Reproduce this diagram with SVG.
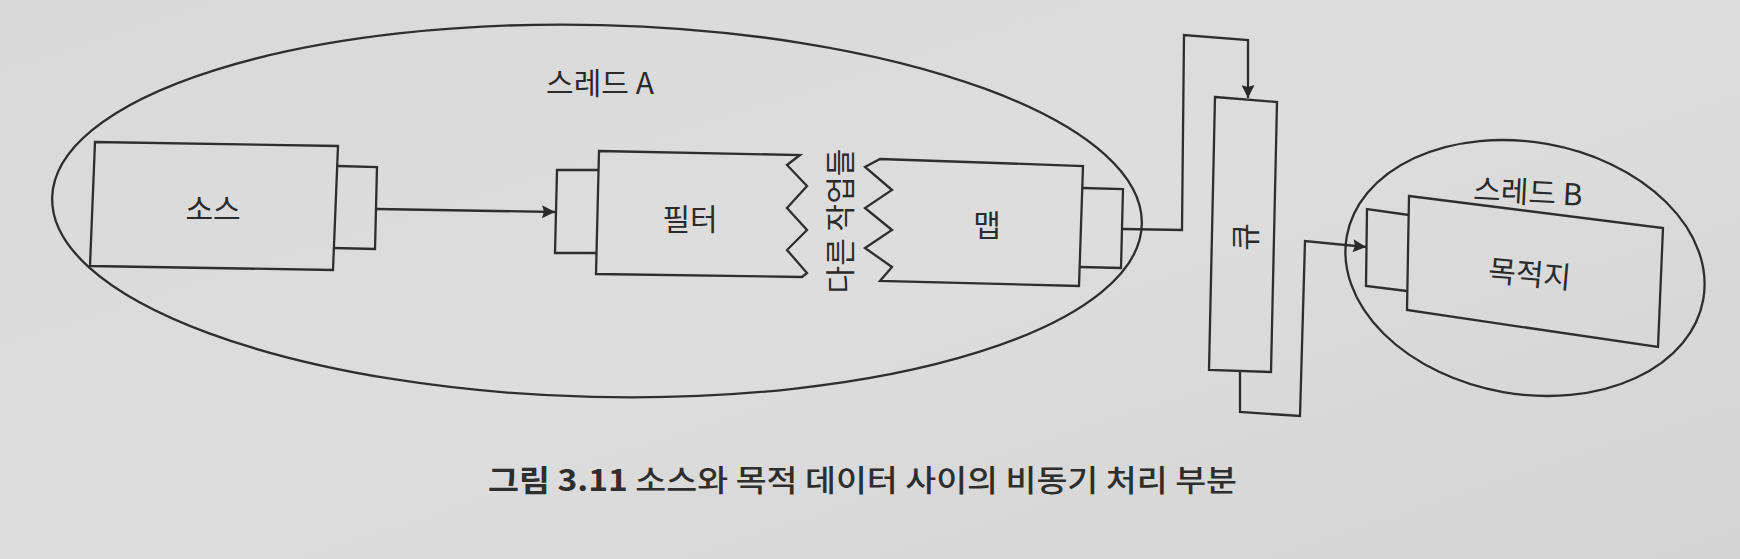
<svg xmlns="http://www.w3.org/2000/svg" width="1740" height="559" viewBox="0 0 1740 559">
<defs>
<linearGradient id="bg" x1="0" y1="0" x2="1" y2="1">
<stop offset="0" stop-color="#d8d9d8"/>
<stop offset="0.5" stop-color="#dcdddc"/>
<stop offset="1" stop-color="#d3d4d3"/>
</linearGradient>
<marker id="arr" viewBox="0 0 10 10" refX="10" refY="5" markerWidth="15" markerHeight="13" markerUnits="userSpaceOnUse" orient="auto">
<path d="M0,0 L10,5 L0,10 L1.5,5 Z" fill="#2a2a2a"/>
</marker>
</defs>
<style>
.s{fill:none;stroke:#2e2e2e;stroke-width:2.3;stroke-linejoin:miter}
.t{font-family:"Noto Sans CJK KR","Noto Sans",sans-serif;fill:#2a2a2a;text-anchor:middle;dominant-baseline:central;font-size:30px}
</style>
<rect width="1740" height="559" fill="url(#bg)"/>

<g id="threadA">
<ellipse class="s" cx="597" cy="211" rx="545" ry="186" transform="rotate(1.4 597 211)"/>
<text class="t" x="600" y="81">스레드 A</text>
</g>

<g id="source">
<path class="s" d="M95,142 L338,146 L333,270 L90,266 Z"/>
<path class="s" d="M338,166 L377,167 L375,249 L333,248"/>
<text class="t" x="213" y="207">소스</text>
</g>

<g id="filter">
<path class="s" d="M599,170 L557,170 L555,253 L596,253"/>
<path class="s" d="M599,151 L800,155 L787,165 L807,186 L787,208 L807,230 L787,250 L807,273 L802,277 L596,274 Z"/>
<text class="t" x="690" y="217">필터</text>
</g>

<g id="others">
<text class="t" x="838" y="221" transform="rotate(-90 838 221)">다른 작업들</text>
</g>

<g id="map">
<path class="s" d="M880,159 L1083,166 L1079,286 L880,281 L892,267 L865,248 L892,230 L865,208 L892,190 L865,167 Z"/>
<path class="s" d="M1083,188 L1123,189 L1121,268 L1080,267"/>
<text class="t" x="987" y="223">맵</text>
</g>

<g id="queue">
<path class="s" d="M1215,97 L1277,102 L1271,372 L1209,370 Z"/>
<text class="t" x="1243" y="237" transform="rotate(-90 1243 237)">큐</text>
</g>

<g id="threadB">
<ellipse class="s" cx="1525" cy="268" rx="181" ry="126" transform="rotate(10 1525 268)"/>
<text class="t" x="1528" y="190" transform="rotate(3 1528 190)">스레드 B</text>
</g>

<g id="destination">
<path class="s" d="M1409,196 L1663,228 L1658,347 L1407,310 Z"/>
<path class="s" d="M1409,215 L1367,209 L1366,286 L1407,291"/>
<text class="t" x="1530" y="272" transform="rotate(5 1530 272)">목적지</text>
</g>

<g id="connectors">
<path class="s" d="M377,209 L555,212" marker-end="url(#arr)"/>
<path class="s" d="M1123,229 L1182,230 L1184,35 L1248,40 L1248,98" marker-end="url(#arr)"/>
<path class="s" d="M1240,372 L1240,412 L1300,416 L1305,241 L1366,247" marker-end="url(#arr)"/>
</g>

<g id="caption">
<text x="488" y="478" font-size="30" font-family="'Noto Sans CJK KR','Noto Sans',sans-serif" font-weight="500" fill="#2e2e2e" dominant-baseline="central" textLength="749" lengthAdjust="spacingAndGlyphs"><tspan font-weight="700">그림 3.11</tspan> 소스와 목적 데이터 사이의 비동기 처리 부분</text>
</g>
</svg>
